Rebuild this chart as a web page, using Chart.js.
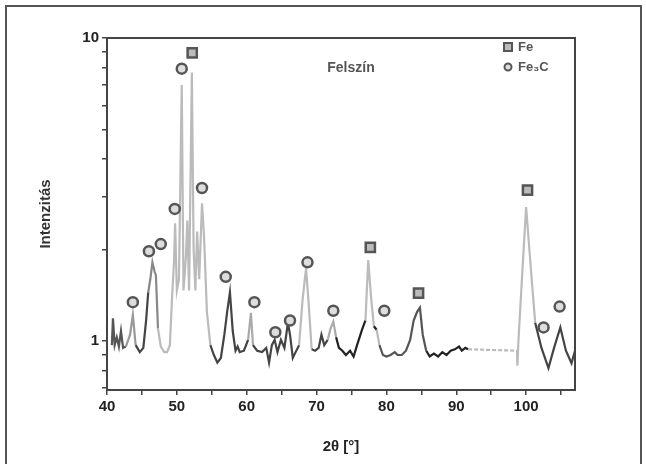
<!DOCTYPE html>
<html>
<head>
<meta charset="utf-8">
<script src="https://cdn.jsdelivr.net/npm/chart.js@4/dist/chart.umd.min.js"></script>
<style>
  html, body { margin: 0; padding: 0; background: #fff; }
  canvas { display: block; }
</style>
</head>
<body>
<canvas id="xrd" width="646" height="464"></canvas>
<script>
// XRD pattern, surface sample ("Felszín")
const twoTheta = [
  40.7, 40.85, 41.1, 41.4, 41.7, 42.0, 42.3, 42.7, 43.3, 43.7, 44.1, 44.7, 45.2, 45.6, 45.9,
  46.2, 46.5, 46.8, 47.0, 47.3, 47.7, 48.2, 48.6, 49.0, 49.3, 49.6, 49.75, 50.0, 50.3, 50.7,
  50.95, 51.3, 51.5, 51.75, 52.15, 52.4, 52.65, 52.9, 53.2, 53.6, 53.9, 54.3, 54.8, 55.3, 55.8,
  56.3, 56.8, 57.2, 57.6, 58.0, 58.4, 58.7, 59.0, 59.6, 60.2, 60.6, 60.9, 61.5, 62.2, 62.8,
  63.2, 63.6, 64.0, 64.4, 64.9, 65.4, 65.9, 66.2, 66.6, 67.0, 67.5, 68.0, 68.5, 68.9, 69.3,
  69.8, 70.3, 70.7, 71.1, 71.6, 72.0, 72.4, 72.8, 73.2, 73.7, 74.2, 74.8, 75.3, 75.8, 76.5,
  77.0, 77.4, 77.8, 78.2, 78.6, 79.0, 79.5, 80.0, 80.6, 81.2, 81.6, 82.2, 82.8, 83.4, 83.9,
  84.4, 84.8, 85.2, 85.7, 86.2, 86.8, 87.4, 88.0, 88.6, 89.2, 89.8, 90.4, 90.8, 91.3, 91.7,
  98.7, 98.75, 98.9, 99.4, 100.0, 100.4, 100.9, 101.3, 102.2, 103.2, 104.0, 104.9, 105.7, 106.5, 107.0
];
const intensity = [
  0.97, 1.19, 0.97, 1.03, 0.96, 1.08, 0.95, 0.96, 1.05, 1.22, 0.97, 0.92, 0.95, 1.17, 1.45,
  1.60, 1.82, 1.70, 1.65, 1.10, 0.96, 0.92, 0.92, 0.97, 1.37, 1.85, 2.45, 1.47, 1.60, 7.0,
  1.47, 1.9, 2.5, 1.47, 7.7, 2.0, 1.47, 2.3, 1.6, 2.85, 2.2, 1.25, 0.97, 0.90, 0.85,
  0.88, 1.05, 1.25, 1.45, 1.08, 0.93, 0.96, 0.92, 0.93, 1.01, 1.24, 0.97, 0.93, 0.92, 0.95,
  0.85, 0.97, 1.01, 0.92, 1.01, 0.95, 1.15, 1.05, 0.88, 0.92, 0.97, 1.37, 1.74, 1.30, 0.94,
  0.93, 0.95, 1.05, 0.97, 1.01, 1.10, 1.16, 1.03, 0.95, 0.93, 0.90, 0.93, 0.89, 0.97, 1.09,
  1.17, 1.85, 1.40, 1.12, 1.09, 0.97, 0.90, 0.89, 0.90, 0.92, 0.90, 0.90, 0.93, 1.01, 1.17,
  1.25, 1.29, 1.05, 0.93, 0.89, 0.91, 0.89, 0.92, 0.90, 0.93, 0.94, 0.96, 0.93, 0.95, 0.94,
  0.93, 0.83, 1.0, 1.6, 2.77, 2.1, 1.5, 1.15, 0.95, 0.815, 0.95, 1.11, 0.93, 0.846, 0.93
];

// peak markers
const fePeakX = [52.2, 77.7, 84.6, 100.2];
const fePeakY = [8.93, 2.04, 1.44, 3.15];
const fe3cPeakX = [43.7, 46.0, 47.7, 49.7, 50.7, 53.6, 57.0, 61.1, 64.1, 66.2, 68.7, 72.4, 79.7, 102.5, 104.8];
const fe3cPeakY = [1.345, 1.98, 2.09, 2.73, 7.92, 3.20, 1.63, 1.345, 1.07, 1.17, 1.82, 1.26, 1.26, 1.11, 1.30];

const xTickLabels = [40, 50, 60, 70, 80, 90, 100];
const yTickLabels = [1, 10];

// the scanned curve is drawn in different grey shades
const shadeBands = [
  [40, 43, '#555'], [43, 44.4, '#999'], [44.4, 45.8, '#444'], [45.8, 47.3, '#888'],
  [47.3, 55, '#bbb'], [55, 60.3, '#444'], [60.3, 61, '#aaa'], [61, 67.5, '#444'],
  [67.5, 69.3, '#bbb'], [69.3, 71.8, '#444'], [71.8, 73, '#aaa'], [73, 77, '#222'],
  [77, 78.2, '#bbb'], [78.2, 78.7, '#222'], [78.7, 79.2, '#bbb'], [79.2, 85.6, '#555'],
  [85.6, 92, '#222'], [92, 101.3, '#bbb'], [101.3, 108, '#444']
];

function shadeAt(x) {
  const band = shadeBands.find(b => x >= b[0] && x < b[1]);
  return band ? band[2] : '#444';
}

const curve = twoTheta.map((x, i) => ({ x, y: intensity[i] }));
const fePoints = fePeakX.map((x, i) => ({ x, y: fePeakY[i] }));
const fe3cPoints = fe3cPeakX.map((x, i) => ({ x, y: fe3cPeakY[i] }));

const FONT = "'Liberation Sans', Arial, sans-serif";

const framePlugin = {
  id: 'frame',
  afterDraw(chart) {
    const { ctx, chartArea: a } = chart;
    ctx.save();
    // plot box
    ctx.strokeStyle = '#444';
    ctx.lineWidth = 2;
    ctx.strokeRect(a.left, a.top, a.right - a.left, a.bottom - a.top);
    // outer figure border
    ctx.strokeStyle = '#555';
    ctx.lineWidth = 2;
    ctx.strokeRect(6, 6, 635, 470);

    // sample name
    ctx.fillStyle = '#555';
    ctx.font = 'bold 14px ' + FONT;
    ctx.textAlign = 'center';
    ctx.textBaseline = 'middle';
    ctx.fillText('Felszín', 351, 68);

    // legend
    ctx.font = 'bold 13px ' + FONT;
    ctx.textAlign = 'left';
    const items = [chart.data.datasets[0], chart.data.datasets[1]];
    items.forEach((ds, i) => {
      const cx = 508, cy = 47 + i * 20;
      ctx.lineWidth = 2;
      ctx.strokeStyle = ds.borderColor;
      ctx.fillStyle = ds.backgroundColor;
      ctx.beginPath();
      if (ds.pointStyle === 'rect') {
        ctx.rect(cx - 4, cy - 4, 8, 8);
      } else {
        ctx.arc(cx, cy, 3.5, 0, Math.PI * 2);
      }
      ctx.fill();
      ctx.stroke();
      ctx.fillStyle = '#555';
      ctx.fillText(ds.label, cx + 10, cy);
    });
    ctx.restore();
  }
};

new Chart(document.getElementById('xrd'), {
  type: 'scatter',
  data: {
    datasets: [
      {
        label: 'Fe',
        data: fePoints,
        pointStyle: 'rect',
        pointRadius: 6.5,
        borderWidth: 2.5,
        borderColor: '#555',
        backgroundColor: '#bbb',
        order: 0
      },
      {
        label: 'Fe₃C',
        data: fe3cPoints,
        pointStyle: 'circle',
        pointRadius: 5,
        borderWidth: 2.5,
        borderColor: '#555',
        backgroundColor: '#ddd',
        order: 0
      },
      {
        label: 'XRD',
        data: curve,
        showLine: true,
        pointRadius: 0,
        borderWidth: 2.2,
        borderColor: '#555',
        tension: 0,
        order: 1,
        segment: {
          borderColor: c => shadeAt((c.p0.parsed.x + c.p1.parsed.x) / 2),
          borderDash: c => (c.p1.parsed.x - c.p0.parsed.x > 3 ? [4, 2] : undefined)
        }
      }
    ]
  },
  options: {
    responsive: false,
    animation: false,
    layout: { padding: { top: 38, right: 71, left: 0, bottom: 0 } },
    plugins: {
      legend: { display: false },
      tooltip: { enabled: false }
    },
    scales: {
      x: {
        type: 'linear',
        min: 40,
        max: 107,
        afterBuildTicks: s => {
          const t = [];
          for (let v = 40; v <= 105; v += 5) t.push({ value: v });
          s.ticks = t;
        },
        afterFit: s => { s.height = 74; },
        ticks: {
          autoSkip: false,
          maxRotation: 0,
          padding: 3,
          color: '#222',
          font: { family: FONT, size: 15, weight: 'bold' },
          callback: v => (xTickLabels.includes(v) ? String(v) : '')
        },
        grid: { drawOnChartArea: false, tickLength: 5, color: '#444', lineWidth: 1.5 },
        border: { color: '#444', width: 2 },
        title: {
          display: true,
          text: '2θ [°]',
          color: '#222',
          font: { family: FONT, size: 15, weight: 'bold' },
          padding: { top: 0, bottom: 8 }
        }
      },
      y: {
        type: 'logarithmic',
        min: 0.69,
        max: 10,
        afterBuildTicks: s => {
          const t = [];
          [0.7, 0.8, 0.9, 1, 2, 3, 4, 5, 6, 7, 8, 9, 10].forEach(v => t.push({ value: v }));
          s.ticks = t;
        },
        afterFit: s => { s.width = 107; },
        ticks: {
          autoSkip: false,
          padding: 3,
          color: '#222',
          font: { family: FONT, size: 15, weight: 'bold' },
          callback: v => (yTickLabels.includes(v) ? String(v) : '')
        },
        grid: { drawOnChartArea: false, tickLength: 5, color: '#444', lineWidth: 1.5 },
        border: { color: '#444', width: 2 },
        title: {
          display: true,
          text: 'Intenzitás',
          color: '#333',
          font: { family: FONT, size: 15, weight: 'bold' },
          padding: { top: 37, bottom: 0 }
        }
      }
    }
  },
  plugins: [framePlugin]
});
</script>
</body>
</html>
